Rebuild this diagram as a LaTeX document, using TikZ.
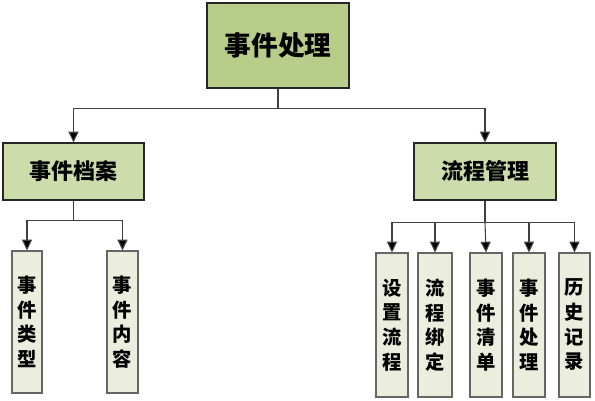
\documentclass[tikz,border=0pt]{standalone}
\usepackage{fontspec}
\newfontfamily\cjk{Noto Sans CJK SC}
\usetikzlibrary{arrows.meta,shadows}
\definecolor{rootfill}{HTML}{B9CD8A}
\definecolor{midfill}{HTML}{CCDCAA}
\definecolor{leaffill}{HTML}{EBEEDD}
\definecolor{linec}{HTML}{404040}
\tikzset{
  box/.style={draw=black!85, line width=0.9pt, inner sep=0pt, align=center,
    drop shadow={shadow xshift=0.9pt, shadow yshift=-0.9pt, fill=black!30, opacity=0.6}},
  rootbox/.style={box, fill=rootfill, font=\cjk\bfseries\fontsize{20}{24}\selectfont},
  midbox/.style={box, fill=midfill, font=\cjk\bfseries\fontsize{16.5}{20}\selectfont},
  leafbox/.style={box, draw=black!60, fill=leaffill, font=\cjk\bfseries\fontsize{14.5}{18.5}\selectfont},
  conn/.style={draw=linec, line width=0.8pt},
  arr/.style={conn, -{Triangle[length=8pt,width=7.5pt]}, arrows={[fill=black]}},
}
\begin{document}
\begin{tikzpicture}[x=0.75pt,y=-0.75pt]
\useasboundingbox (0,0) rectangle (595,400);
% root
\node[rootbox, minimum width=106.5pt, minimum height=63.75pt] (root) at (278,45.5) {事件处理};
% mid level
\node[midbox, minimum width=105.75pt, minimum height=42.75pt] (lm) at (73.5,171.5) {事件档案};
\node[midbox, minimum width=106.5pt, minimum height=42.75pt] (rm) at (485,171.5) {流程管理};
% left leaves
\node[leafbox, minimum width=22.5pt, minimum height=106.5pt] (l1) at (27,322) {事\\件\\类\\型};
\node[leafbox, minimum width=23.25pt, minimum height=106.5pt] (l2) at (122.5,322) {事\\件\\内\\容};
% right leaves
\node[leafbox, minimum width=24pt, minimum height=108pt] (r1) at (392,325) {设\\置\\流\\程};
\node[leafbox, minimum width=25.5pt, minimum height=108pt] (r2) at (435,325) {流\\程\\绑\\定};
\node[leafbox, minimum width=24pt, minimum height=108pt] (r3) at (486,325) {事\\件\\清\\单};
\node[leafbox, minimum width=24pt, minimum height=108pt] (r4) at (529,325) {事\\件\\处\\理};
\node[leafbox, minimum width=23.25pt, minimum height=108pt] (r5) at (574.5,325) {历\\史\\记\\录};
% connectors root
\draw[conn] (root.south) -- ++(0,20) coordinate (j0);
\draw[arr] (j0) -| (lm.north);
\draw[arr] (j0) -| (rm.north);
% left
\draw[conn] (lm.south) -- ++(0,20) coordinate (j1);
\draw[arr] (j1) -| (l1.north);
\draw[arr] (j1) -| (l2.north);
% right
\draw[conn] (rm.south) -- ++(0,22) coordinate (j2);
\draw[arr] (j2) -| (r1.north);
\draw[arr] (j2) -| (r2.north);
\draw[arr] (j2) -- (r3.north);
\draw[arr] (j2) -| (r4.north);
\draw[arr] (j2) -| (r5.north);
\end{tikzpicture}
\end{document}
